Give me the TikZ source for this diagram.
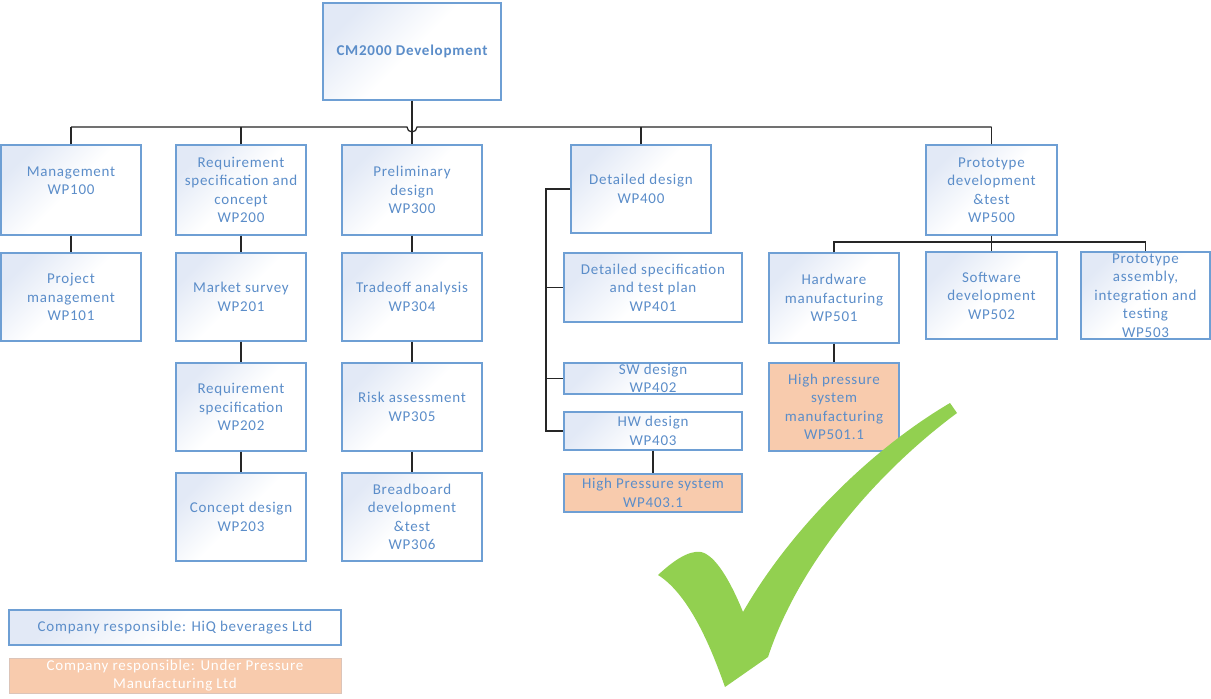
\documentclass[tikz,border=0pt]{standalone}
\usepackage{fontspec}
\setmainfont{Carlito}[LetterSpace=5]
\definecolor{txtblue}{HTML}{5B8DC9}
\definecolor{edgeblue}{HTML}{6E9FD4}
\definecolor{shadeblue}{HTML}{E2E9F6}
\definecolor{peach}{HTML}{F8CBAD}
\definecolor{peachedge}{HTML}{DCC4B8}
\definecolor{tickgreen}{HTML}{92D050}
\begin{document}
\begin{tikzpicture}[x=1pt,y=-1pt,
  wp/.style={draw=edgeblue, line width=1.3pt, top color=shadeblue, bottom color=white,
    middle color=white, shading angle=45, align=center, text=txtblue, inner sep=0pt,
    font=\fontsize{15}{18.5}\selectfont},
  wpout/.style={wp, fill=peach, shade=false},
  link/.style={draw=black!85, line width=1.2pt},
  sz/.style 2 args={minimum width=#1pt, minimum height=#2pt}]

\useasboundingbox (0,0) rectangle (1211,699);
\fill[white] (0,0) rectangle (1211,699);

% root
\node[wp, sz={178}{97}, font=\bfseries\fontsize{15}{18.5}\selectfont] (root) at (412,51.5) {CM2000 Development};

% first level
\node[wp, sz={140}{90}] (wp100) at (71,190) {Management\\WP100\\\mbox{}};
\node[wp, sz={130}{90}] (wp200) at (241,190) {Requirement\\specification and\\concept\\WP200};
\node[wp, sz={140}{90}] (wp300) at (412,190) {Preliminary\\design\\WP300};
\node[wp, sz={140}{88}] (wp400) at (641,189) {Detailed design\\WP400};
\node[wp, sz={131}{90}] (wp500) at (991.5,190) {Prototype\\development\\\&test\\WP500};

% management
\node[wp, sz={140}{88}] (wp101) at (71,297) {Project\\management\\WP101};

% requirements
\node[wp, sz={130}{88}] (wp201) at (241,297) {Market survey\\WP201};
\node[wp, sz={130}{88}] (wp202) at (241,407) {Requirement\\specification\\WP202};
\node[wp, sz={130}{88}] (wp203) at (241,517) {Concept design\\WP203};

% preliminary design
\node[wp, sz={140}{88}] (wp304) at (412,297) {Tradeoff analysis\\WP304};
\node[wp, sz={140}{88}] (wp305) at (412,407) {Risk assessment\\WP305};
\node[wp, sz={140}{88}] (wp306) at (412,517) {Breadboard\\development\\\&test\\WP306};

% detailed design
\node[wp, sz={178}{69}] (wp401) at (653,287.5) {Detailed specification\\and test plan\\WP401};
\node[wp, sz={178}{31}] (wp402) at (653,378.5) {SW design\\WP402};
\node[wp, sz={178}{38}] (wp403) at (653,431) {HW design\\WP403};
\node[wpout, sz={178}{38}] (wp4031) at (653,493) {High Pressure system\\WP403.1};

% prototype
\node[wp, sz={130}{90}] (wp501) at (834,298) {Hardware\\manufacturing\\WP501};
\node[wp, sz={131}{87}] (wp502) at (991.5,295.5) {Software\\development\\WP502};
\node[wp, sz={129}{87}] (wp503) at (1145.5,295.5) {Prototype\\assembly,\\integration and\\testing\\WP503};
\node[wpout, sz={130}{88}] (wp5011) at (834,407) {High pressure\\system\\manufacturing\\WP501.1};

% legend
\node[wp, sz={332}{35}] (legA) at (175,627.5) {Company responsible: HiQ beverages Ltd};
\node[wpout, draw=peachedge, line width=0.8pt, text=white, sz={332}{35}] (legB) at (175,675.5)
  {Company responsible: Under Pressure\\Manufacturing Ltd};

% connectors
\coordinate (bus) at (0,127);
\coordinate (bus5) at (0,242);
\coordinate (spine) at (546,0);

\draw[link] (wp100.north |- bus) -- ([xshift=-5pt]wp300.north |- bus)
  arc[start angle=180, end angle=360, radius=5pt] -- (wp500.north |- bus);
\draw[link] (root.south) -- (wp300.north);
\foreach \n in {wp100,wp200,wp400,wp500}
  \draw[link] (\n.north) -- (\n.north |- bus);

\draw[link] (wp100.south) -- (wp101.north);
\draw[link] (wp200.south) -- (wp201.north);
\draw[link] (wp201.south) -- (wp202.north);
\draw[link] (wp202.south) -- (wp203.north);
\draw[link] (wp300.south) -- (wp304.north);
\draw[link] (wp304.south) -- (wp305.north);
\draw[link] (wp305.south) -- (wp306.north);

\draw[link] (wp400.west) -- (wp400.west -| spine) -- (wp403.west -| spine) -- (wp403.west);
\draw[link] (wp401.west -| spine) -- (wp401.west);
\draw[link] (wp402.west -| spine) -- (wp402.west);
\draw[link] (wp403.south) -- (wp4031.north);

\draw[link] (wp500.south) -- (wp500.south |- bus5);
\draw[link] (wp501.north) -- (wp501.north |- bus5) -- (wp503.north |- bus5) -- (wp503.north);
\draw[link] (wp502.north) -- (wp502.north |- bus5);
\draw[link] (wp501.south) -- (wp5011.north);

% check mark
\fill[tickgreen] (658,575) .. controls (672,562) and (688,550) .. (701,552)
  .. controls (715,555) and (730,580) .. (743,612)
  .. controls (790,530) and (870,450) .. (950,403)
  -- (957,413)
  .. controls (880,470) and (800,560) .. (768,657)
  -- (725,687)
  .. controls (712,650) and (690,595) .. (658,575) -- cycle;
\end{tikzpicture}
\end{document}
